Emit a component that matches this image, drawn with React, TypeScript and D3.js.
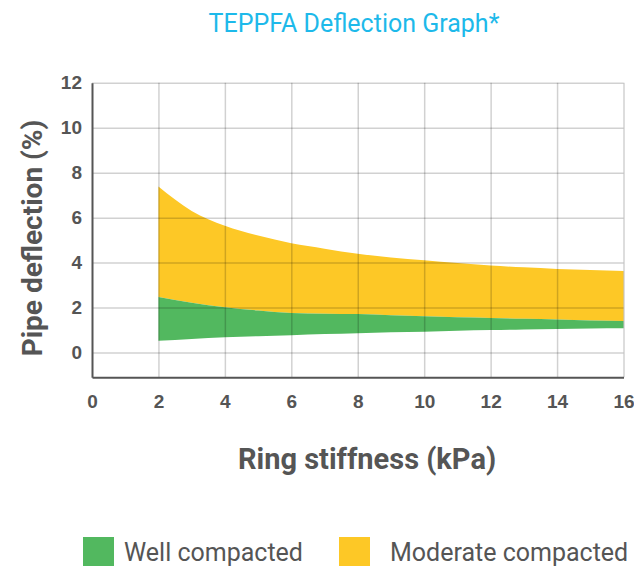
import { useEffect, useRef } from 'react';
import * as d3 from 'd3';

// values
const stiffness = [2, 3, 4, 5, 6, 7, 8, 9, 10, 11, 12, 13, 14, 15, 16];
const moderateUpper = [7.38, 6.3, 5.64, 5.2, 4.86, 4.62, 4.39, 4.23, 4.1, 3.98, 3.87, 3.79, 3.72, 3.67, 3.63];
const wellUpper = [2.47, 2.22, 2.02, 1.87, 1.76, 1.73, 1.71, 1.66, 1.61, 1.57, 1.54, 1.5, 1.47, 1.43, 1.4];
const wellLower = [0.52, 0.6, 0.68, 0.73, 0.77, 0.82, 0.86, 0.9, 0.93, 0.97, 1.0, 1.03, 1.05, 1.07, 1.08];

const xTicks = [0, 2, 4, 6, 8, 10, 12, 14, 16];
const yTicks = [0, 2, 4, 6, 8, 10, 12];

const legendItems = [
  { label: 'Well compacted', color: '#52b85f' },
  { label: 'Moderate compacted', color: '#fdc826' },
];

export default function App() {
  const svgRef = useRef<SVGSVGElement>(null);

  useEffect(() => {
    if (!svgRef.current) return;
    const width = 634;
    const height = 566;
    const margin = { top: 82.7, right: 10.5, bottom: 188.7, left: 92 };

    d3.select(svgRef.current).selectAll('*').remove();
    const svg = d3
      .select(svgRef.current)
      .attr('width', width)
      .attr('height', height)
      .style('font-family', 'Roboto, sans-serif');

    const x = d3.scaleLinear().domain([0, 16]).range([margin.left, width - margin.right]);
    const y = d3.scaleLinear().domain([-1.1, 12]).range([height - margin.bottom, margin.top]);

    const rows = stiffness.map((s, i) => ({
      s,
      mod: moderateUpper[i],
      top: wellUpper[i],
      low: wellLower[i],
    }));

    // Moderate compacted band
    svg
      .append('path')
      .datum(rows)
      .attr('fill', legendItems[1].color)
      .attr(
        'd',
        d3
          .area<(typeof rows)[0]>()
          .x((d) => x(d.s))
          .y0((d) => y(d.top))
          .y1((d) => y(d.mod))
          .curve(d3.curveMonotoneX)
      );

    // Well compacted band
    svg
      .append('path')
      .datum(rows)
      .attr('fill', legendItems[0].color)
      .attr(
        'd',
        d3
          .area<(typeof rows)[0]>()
          .x((d) => x(d.s))
          .y0((d) => y(d.low))
          .y1((d) => y(d.top))
          .curve(d3.curveMonotoneX)
      );

    // Grid on top of the bands
    const plotW = width - margin.left - margin.right;
    const bottomY = height - margin.bottom;
    const gridColor = 'rgba(0,0,0,0.18)';
    const gridX = svg
      .append('g')
      .attr('transform', `translate(0, ${bottomY})`)
      .call(d3.axisBottom(x).tickValues(xTicks.slice(1)).tickSize(-(bottomY - margin.top)).tickFormat(() => ''));
    gridX.select('.domain').remove();
    gridX.selectAll('line').attr('stroke', gridColor).attr('stroke-width', 1.5);

    const gridY = svg
      .append('g')
      .attr('transform', `translate(${margin.left}, 0)`)
      .call(d3.axisLeft(y).tickValues(yTicks).tickSize(-plotW).tickFormat(() => ''));
    gridY.select('.domain').remove();
    gridY.selectAll('line').attr('stroke', gridColor).attr('stroke-width', 1.5);

    // Axes
    const xAxis = svg
      .append('g')
      .attr('transform', `translate(0, ${bottomY})`)
      .call(d3.axisBottom(x).tickValues(xTicks).tickSize(0).tickPadding(17).tickSizeOuter(0));
    xAxis.select('.domain').attr('stroke', '#555').attr('stroke-width', 2);
    xAxis
      .selectAll('text')
      .style('font-size', '19px')
      .style('font-weight', 'bold')
      .style('fill', '#555');

    const yAxis = svg
      .append('g')
      .attr('transform', `translate(${margin.left}, 0)`)
      .call(d3.axisLeft(y).tickValues(yTicks).tickSize(0).tickPadding(10).tickSizeOuter(0));
    yAxis.select('.domain').attr('stroke', '#555').attr('stroke-width', 2);
    yAxis
      .selectAll('text')
      .style('font-size', '19px')
      .style('font-weight', 'bold')
      .style('fill', '#555');

    // Title
    svg
      .append('text')
      .attr('x', 354)
      .attr('y', 32)
      .attr('text-anchor', 'middle')
      .style('font-size', '25px')
      .style('fill', '#1db9ea')
      .text('TEPPFA Deflection Graph*');

    // Axis titles
    svg
      .append('text')
      .attr('x', 367)
      .attr('y', 469)
      .attr('text-anchor', 'middle')
      .style('font-size', '29px')
      .style('font-weight', 'bold')
      .style('fill', '#555')
      .text('Ring stiffness (kPa)');

    svg
      .append('text')
      .attr('transform', 'translate(42, 238) rotate(-90)')
      .attr('text-anchor', 'middle')
      .style('font-size', '28px')
      .style('font-weight', 'bold')
      .style('fill', '#555')
      .text('Pipe deflection (%)');

    // Legend
    const legendX = [83, 339];
    const legend = svg
      .selectAll('.legend')
      .data(legendItems)
      .enter()
      .append('g')
      .attr('class', 'legend')
      .attr('transform', (_, i) => `translate(${legendX[i]}, 537)`);
    legend.append('rect').attr('width', 31).attr('height', 31).attr('fill', (d) => d.color);
    legend
      .append('text')
      .attr('x', (_, i) => (i === 0 ? 41 : 51))
      .attr('y', 24)
      .style('font-size', '25px')
      .style('fill', '#555')
      .text((d) => d.label);
  }, []);

  return (
    <div style={{ position: 'absolute', left: 0, top: 0 }}>
      <svg ref={svgRef} style={{ display: 'block' }} />
    </div>
  );
}
